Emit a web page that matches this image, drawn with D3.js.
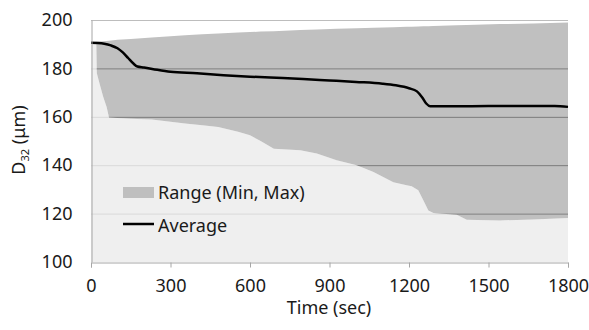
<!DOCTYPE html>
<html>
<head>
<meta charset="utf-8">
<script src="https://cdn.jsdelivr.net/npm/d3@7"></script>
<style>
  html, body { margin: 0; padding: 0; background: #ffffff; }
  svg { display: block; }
  text { font-family: "Noto Sans", "Open Sans", sans-serif; fill: #1a1a1a; }
</style>
</head>
<body>
<svg id="chart" width="589" height="330"></svg>
<script>
// ---- data ----
const rangeTime = [0, 20, 22, 34, 46, 59, 68, 100, 150, 229, 300, 355, 420, 480, 555, 600, 640, 690, 790, 852, 927, 1003, 1066, 1141, 1191, 1210, 1235, 1254, 1273, 1292, 1380, 1418, 1543, 1668, 1800];
const rangeMin  = [190.6, 190.5, 178, 173, 168.3, 164.1, 159.7, 159.5, 159.2, 158.9, 158, 157.2, 156.5, 155.8, 153.8, 152.4, 150, 146.8, 146.2, 144.8, 142, 140, 137.2, 133, 131.7, 131.3, 129.6, 125.5, 121.3, 120.2, 119.5, 117.5, 117.2, 117.6, 118.2];
const rangeMax  = [190.6, 191, 191, 191.1, 191.2, 191.3, 191.4, 191.8, 192.2, 192.8, 193.3, 193.7, 194.1, 194.4, 194.8, 195, 195.2, 195.4, 195.9, 196.1, 196.4, 196.6, 196.8, 197, 197.2, 197.2, 197.3, 197.4, 197.4, 197.5, 197.8, 197.9, 198.3, 198.6, 199];

const avgTime  = [0, 25, 50, 75, 100, 120, 140, 160, 175, 200, 250, 300, 400, 500, 600, 700, 800, 900, 1000, 1100, 1150, 1200, 1230, 1250, 1265, 1280, 1400, 1600, 1750, 1800];
const avgValue = [190.6, 190.5, 190.2, 189.5, 188.3, 186.6, 184.3, 182, 180.8, 180.4, 179.4, 178.6, 178, 177.2, 176.6, 176.1, 175.6, 175, 174.4, 173.7, 173, 171.8, 170.5, 168, 165.5, 164.4, 164.4, 164.5, 164.5, 164.1];

const xTicks = [0, 300, 600, 900, 1200, 1500, 1800];
const yTicks = [100, 120, 140, 160, 180, 200];
const legendLabels = ["Range (Min, Max)", "Average"];
const xTitle = "Time (sec)";

// ---- layout ----
const svg = d3.select("#chart");
const pL = 91, pR = 568, pT = 20, pB = 262;
const x = d3.scaleLinear().domain([0, 1800]).range([pL, pR]);
const y = d3.scaleLinear().domain([100, 200]).range([pB, pT]);

const rangeData = rangeTime.map((t, i) => ({t, lo: rangeMin[i], hi: rangeMax[i]}));
const avgData = avgTime.map((t, i) => ({t, v: avgValue[i]}));

// light area below min (also the strip before the range opens up)
const lightArea = d3.area().x(d => x(d.t)).y0(y(100)).y1(d => y(d.lo));
svg.append("path").datum(rangeData).attr("d", lightArea).attr("fill", "#efefef");

// range area
const rangeArea = d3.area().x(d => x(d.t)).y0(d => y(d.lo)).y1(d => y(d.hi));
svg.append("path").datum(rangeData).attr("d", rangeArea).attr("fill", "#c0c0c0");

// clip for dark gridlines
svg.append("clipPath").attr("id", "rangeClip")
  .append("path").datum(rangeData).attr("d", rangeArea);

// gridlines (light everywhere, dark inside range)
const gridVals = yTicks.filter(v => v > 100);
svg.append("g").selectAll("line").data(gridVals).join("line")
  .attr("x1", pL).attr("x2", pR)
  .attr("y1", d => y(d) + 0.5).attr("y2", d => y(d) + 0.5)
  .attr("stroke", d => d === 200 ? "#bdbdbd" : "#d9d9d9").attr("stroke-width", 1);
svg.append("g").attr("clip-path", "url(#rangeClip)").selectAll("line").data(gridVals).join("line")
  .attr("x1", pL).attr("x2", pR)
  .attr("y1", d => y(d) + 0.5).attr("y2", d => y(d) + 0.5)
  .attr("stroke", "#868686").attr("stroke-width", 1.2);

// average line
const avgLine = d3.line().x(d => x(d.t)).y(d => y(d.v)).curve(d3.curveMonotoneX);
svg.append("path").datum(avgData).attr("d", avgLine)
  .attr("fill", "none").attr("stroke", "#000").attr("stroke-width", 2.5);

// axes
const xAxis = d3.axisBottom(x).tickValues(xTicks).tickSize(5).tickPadding(12).tickFormat(d3.format("d"));
const gx = svg.append("g").attr("transform", `translate(0,${pB + 0.5})`).call(xAxis);
gx.select(".domain").attr("stroke", "#a6a6a6");
gx.selectAll(".tick line").attr("stroke", "#a6a6a6");
gx.selectAll(".tick text").attr("font-size", 18).attr("fill", "#1a1a1a")
  .attr("font-family", "Noto Sans, Open Sans, sans-serif");

const yAxis = d3.axisLeft(y).tickValues(yTicks).tickSize(0).tickPadding(19).tickFormat(d3.format("d"));
const gy = svg.append("g").attr("transform", `translate(${pL + 0.5},0)`).call(yAxis);
gy.select(".domain").attr("stroke", "#a6a6a6");
gy.selectAll(".tick text").attr("font-size", 18).attr("fill", "#1a1a1a")
  .attr("font-family", "Noto Sans, Open Sans, sans-serif");

// axis titles
svg.append("text").attr("x", 329).attr("y", 314).attr("text-anchor", "middle")
  .attr("font-size", 18).text(xTitle);

const yt = svg.append("text").attr("transform", "translate(25,140) rotate(-90)")
  .attr("text-anchor", "middle").attr("font-size", 18);
yt.append("tspan").text("D");
yt.append("tspan").attr("font-size", 11).attr("dy", 4).text("32");
yt.append("tspan").attr("dy", -4).text(" (μm)");

// legend
const lg = svg.append("g");
lg.append("rect").attr("x", 123).attr("y", 187).attr("width", 31).attr("height", 11).attr("fill", "#bfbfbf");
lg.append("text").attr("x", 158).attr("y", 198.5).attr("font-size", 18).text(legendLabels[0]);
lg.append("line").attr("x1", 123).attr("x2", 154).attr("y1", 224).attr("y2", 224)
  .attr("stroke", "#000").attr("stroke-width", 2.5);
lg.append("text").attr("x", 158).attr("y", 231.5).attr("font-size", 18).text(legendLabels[1]);
</script>
</body>
</html>
